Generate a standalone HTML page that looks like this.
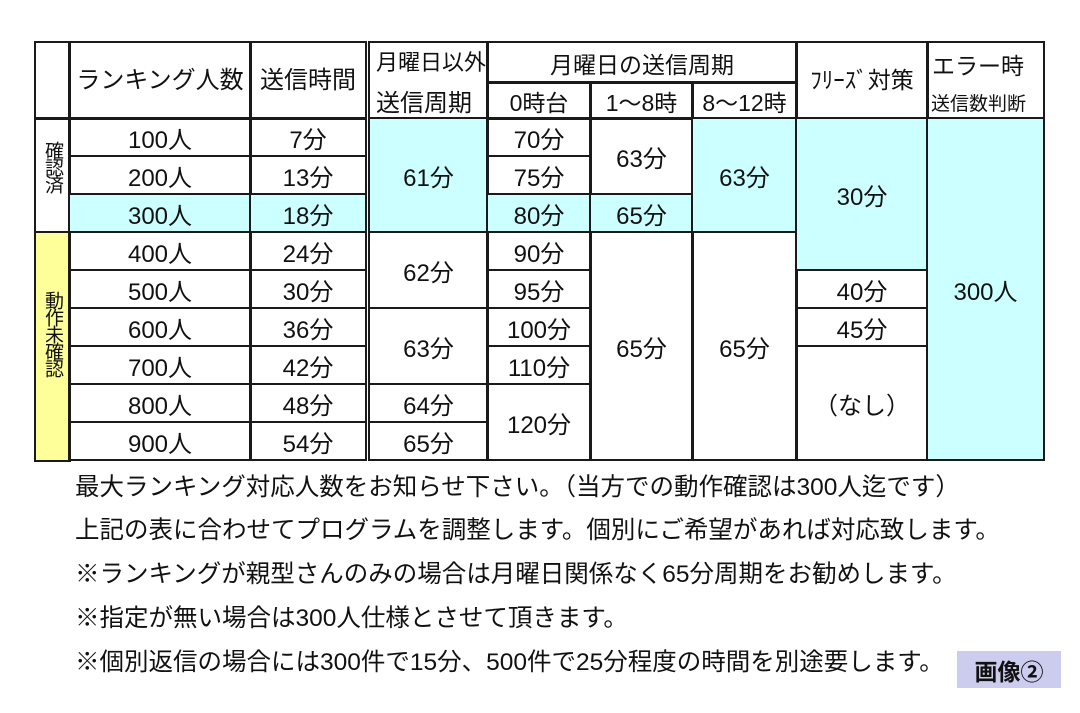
<!DOCTYPE html>
<html><head><meta charset="utf-8"><style>
body{margin:0;background:#fff;width:1080px;height:713px;position:relative;overflow:hidden;font-family:"Liberation Sans","Noto Sans CJK JP",sans-serif;color:#111}
.c{position:absolute;box-sizing:border-box;border:2px solid #1a1a1a;display:flex;align-items:center;justify-content:center;font-size:24px;overflow:hidden;white-space:nowrap}
.b{background:#ccffff}
.y{background:#ffff99}
.t{position:absolute;white-space:nowrap;font-size:24.5px}
.v{writing-mode:vertical-rl;font-size:19px;line-height:19px;letter-spacing:-2px}
</style></head><body>
<!-- header -->
<div class="c" style="left:34px;top:41px;width:37px;height:79px"></div>
<div class="c" style="left:68px;top:41px;width:184px;height:79px;font-size:24px;padding-bottom:6px">ランキング人数</div>
<div class="c" style="left:249px;top:41px;width:118px;height:79px;font-size:24px;padding-bottom:6px">送信時間</div>
<div class="c" style="left:368px;top:41px;width:121px;height:79px;display:block">
<div style="position:absolute;left:6px;top:2px;font-size:22px">月曜日以外</div>
<div style="position:absolute;left:6px;top:40px;font-size:24px">送信周期</div></div>
<div class="c" style="left:486px;top:41px;width:312px;height:43px;font-size:23px">月曜日の送信周期</div>
<div class="c" style="left:486px;top:81px;width:106px;height:39px;font-size:23px">0時台</div>
<div class="c" style="left:589px;top:81px;width:105px;height:39px;font-size:23px">1～8時</div>
<div class="c" style="left:691px;top:81px;width:107px;height:39px;font-size:23px">8～12時</div>
<div class="c" style="left:795px;top:41px;width:134px;height:79px;font-size:23px;padding-bottom:6px">ﾌﾘｰｽﾞ対策</div>
<div class="c" style="left:926px;top:41px;width:119px;height:79px;display:block">
<div style="position:absolute;left:4px;top:4px;font-size:23px">エラー時</div>
<div style="position:absolute;left:3px;top:46px;font-size:19px">送信数判断</div></div>
<!-- category -->
<div class="c" style="left:34px;top:117px;width:37px;height:117px;align-items:flex-start;padding-top:22px"><span class="v">確認済</span></div>
<div class="c y" style="left:34px;top:231px;width:37px;height:231px;align-items:flex-start;padding-top:58px"><span class="v">動作未確認</span></div>
<!-- col ranking & time -->
<div class="c" style="left:68px;top:117px;width:184px;height:40px">100人</div>
<div class="c" style="left:68px;top:155px;width:184px;height:40px">200人</div>
<div class="c b" style="left:68px;top:193px;width:184px;height:40px">300人</div>
<div class="c" style="left:68px;top:231px;width:184px;height:40px">400人</div>
<div class="c" style="left:68px;top:269px;width:184px;height:40px">500人</div>
<div class="c" style="left:68px;top:307px;width:184px;height:40px">600人</div>
<div class="c" style="left:68px;top:345px;width:184px;height:40px">700人</div>
<div class="c" style="left:68px;top:383px;width:184px;height:40px">800人</div>
<div class="c" style="left:68px;top:421px;width:184px;height:40px">900人</div>
<div class="c" style="left:249px;top:117px;width:118px;height:40px">7分</div>
<div class="c" style="left:249px;top:155px;width:118px;height:40px">13分</div>
<div class="c b" style="left:249px;top:193px;width:118px;height:40px">18分</div>
<div class="c" style="left:249px;top:231px;width:118px;height:40px">24分</div>
<div class="c" style="left:249px;top:269px;width:118px;height:40px">30分</div>
<div class="c" style="left:249px;top:307px;width:118px;height:40px">36分</div>
<div class="c" style="left:249px;top:345px;width:118px;height:40px">42分</div>
<div class="c" style="left:249px;top:383px;width:118px;height:40px">48分</div>
<div class="c" style="left:249px;top:421px;width:118px;height:40px">54分</div>
<!-- non-monday -->
<div class="c b" style="left:368px;top:117px;width:121px;height:116px">61分</div>
<div class="c" style="left:368px;top:231px;width:121px;height:78px">62分</div>
<div class="c" style="left:368px;top:307px;width:121px;height:78px">63分</div>
<div class="c" style="left:368px;top:383px;width:121px;height:40px">64分</div>
<div class="c" style="left:368px;top:421px;width:121px;height:40px">65分</div>
<!-- 0時台 -->
<div class="c" style="left:486px;top:117px;width:106px;height:40px">70分</div>
<div class="c" style="left:486px;top:155px;width:106px;height:40px">75分</div>
<div class="c b" style="left:486px;top:193px;width:106px;height:40px">80分</div>
<div class="c" style="left:486px;top:231px;width:106px;height:40px">90分</div>
<div class="c" style="left:486px;top:269px;width:106px;height:40px">95分</div>
<div class="c" style="left:486px;top:307px;width:106px;height:40px">100分</div>
<div class="c" style="left:486px;top:345px;width:106px;height:40px">110分</div>
<div class="c" style="left:486px;top:383px;width:106px;height:78px">120分</div>
<!-- 1-8 -->
<div class="c" style="left:589px;top:117px;width:105px;height:78px">63分</div>
<div class="c b" style="left:589px;top:193px;width:105px;height:40px">65分</div>
<div class="c" style="left:589px;top:231px;width:105px;height:230px">65分</div>
<!-- 8-12 -->
<div class="c b" style="left:691px;top:117px;width:107px;height:116px">63分</div>
<div class="c" style="left:691px;top:231px;width:107px;height:230px">65分</div>
<!-- freeze -->
<div class="c b" style="left:795px;top:117px;width:134px;height:154px">30分</div>
<div class="c" style="left:795px;top:269px;width:134px;height:40px">40分</div>
<div class="c" style="left:795px;top:307px;width:134px;height:40px">45分</div>
<div class="c" style="left:795px;top:345px;width:134px;height:116px">（なし）</div>
<!-- error -->
<div class="c b" style="left:926px;top:117px;width:119px;height:344px">300人</div>
<!-- notes -->
<div class="t" style="left:75px;top:468px">最大ランキング対応人数をお知らせ下さい。（当方での動作確認は300人迄です）</div>
<div class="t" style="left:75px;top:511px">上記の表に合わせてプログラムを調整します。個別にご希望があれば対応致します。</div>
<div class="t" style="left:75px;top:555px">※ランキングが親型さんのみの場合は月曜日関係なく65分周期をお勧めします。</div>
<div class="t" style="left:75px;top:599px">※指定が無い場合は300人仕様とさせて頂きます。</div>
<div class="t" style="left:75px;top:643px">※個別返信の場合には300件で15分、500件で25分程度の時間を別途要します。</div>
<div style="position:absolute;left:957px;top:651px;width:104px;height:37px;background:#ccccee;display:flex;align-items:center;justify-content:center;font-size:23px;font-weight:bold">画像②</div>
</body></html>
